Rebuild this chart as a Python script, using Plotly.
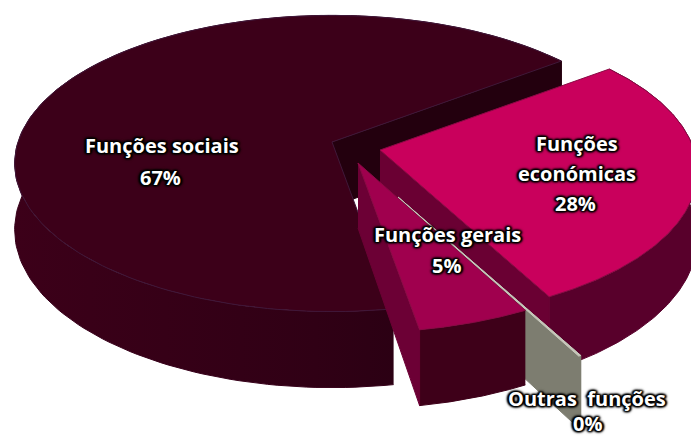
import numpy as np
import plotly.graph_objects as go

# ---- data (clockwise from the first slice) ----
categories = ["Funções económicas", "Outras funções", "Funções gerais", "Funções sociais"]
shares = [27.6, 0.1, 5.0, 67.3]
label_lines = [["Funções", "económicas"], ["Outras  funções"], ["Funções gerais"], ["Funções sociais"]]

# ---- projection of the pie's disc (perspective) ----
FIRST_ANGLE = 37.4
RX, RY, PERSP, DEPTH = 314, 145, 0.145, 65

style = [
    dict(apex=(380, 150), scale=1.0, top="#C9005C", outer="#58002B", wall="#6A0033", edge="end", line="#8a0a45"),
    dict(apex=(398, 197), scale=1.08, top="#C8C8BC", outer="#7D7D70", wall="#7D7D70", edge="start", line="#C8C8BC"),
    dict(apex=(358, 163), scale=1.0, top="#A0004E", outer="#3E0019", wall="#6C0035", edge="end", line="#8a0a45"),
    dict(apex=(332, 142), scale=1.0, top="#3C0019", outer="#37001A", wall="#23000E", edge="end", line="#40183A"),
]
draw_order = [3, 0, 1, 2]
label_pos = [[(577, 143), (577, 173), (575, 203)],
             [(587, 398), (587, 423)],
             [(447, 234), (446, 265)],
             [(162, 145), (160, 177)]]


def project(theta_deg, st, r=1.0):
    t = np.radians(theta_deg)
    u, v = r * np.cos(t), r * np.sin(t)
    s = st["scale"] / (1 + PERSP * v)
    return st["apex"][0] + RX * u * s, st["apex"][1] - RY * v * s, DEPTH * s / st["scale"]


fig = go.Figure()


def poly(xs, ys, fill, line=None, lw=1, gradient=None):
    kw = dict(fillgradient=gradient) if gradient else dict(fillcolor=fill)
    fig.add_trace(go.Scatter(x=list(xs), y=list(ys), mode="lines", fill="toself",
                             line=dict(color=line or fill, width=lw), hoverinfo="skip", showlegend=False, **kw))


bounds = []
a = FIRST_ANGLE
for v in shares:
    b = a - v * 3.6
    bounds.append((a, b))
    a = b

for i in draw_order:
    st = style[i]
    a, b = bounds[i]
    th = np.linspace(a, b, 160)
    x, y, d = project(th, st)
    # outer wall
    grad = None
    if i == 3:
        grad = dict(type="horizontal", colorscale=[[0, "#3C0019"], [0.55, "#300015"], [1, "#220010"]])
    poly(np.r_[x, x[::-1]], np.r_[y, (y + d)[::-1]], st["outer"], gradient=grad)
    # radial wall
    ex, ey, ed = project(a if st["edge"] == "start" else b, st)
    ax, ay = st["apex"]
    poly([ax, ex, ex, ax], [ay, ey, ey + ed, ay + DEPTH], st["wall"])
    # top face
    poly(np.r_[ax, x, ax], np.r_[ay, y, ay], st["top"], st["line"], 1)

glow = ", ".join(["0 0 2px #000", "0 0 3px #000", "0 0 4px #000", "1px 1px 2px #000", "-1px -1px 2px #000",
                  "1px -1px 2px #000", "-1px 1px 2px #000", "2px 0 2px #000", "-2px 0 2px #000"])
for i, lines in enumerate(label_lines):
    texts = lines + [f"{round(shares[i])}%"]
    for t, (lx, ly) in zip(texts, label_pos[i]):
        fig.add_annotation(x=lx, y=ly, text=t, showarrow=False, xanchor="center", yanchor="middle",
                           font=dict(family="Open Sans", size=20, color="white", weight=700, shadow=glow))

fig.update_layout(width=691, height=437, margin=dict(l=0, r=0, t=0, b=0), paper_bgcolor="white",
                  plot_bgcolor="white", showlegend=False,
                  xaxis=dict(range=[0, 691], visible=False, fixedrange=True),
                  yaxis=dict(range=[437, 0], visible=False, fixedrange=True))
fig.write_html("out.html", config={"displayModeBar": False},
               post_script="document.body.style.margin='0';")
